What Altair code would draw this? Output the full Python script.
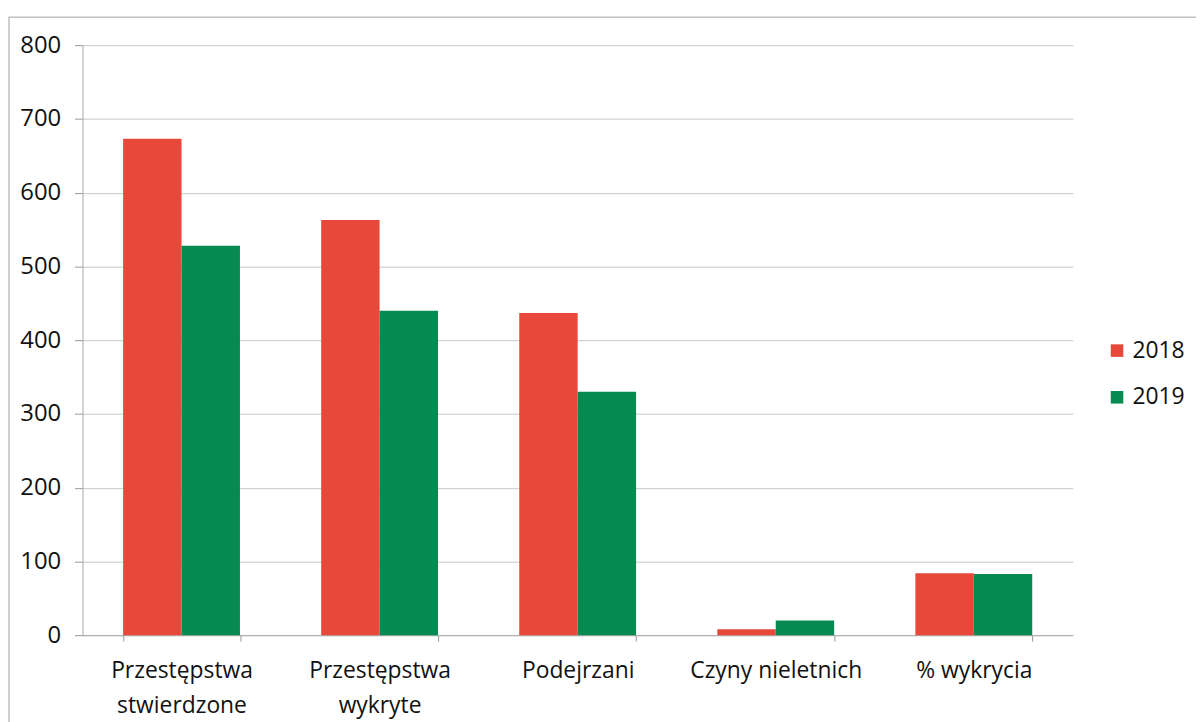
import altair as alt
import pandas as pd

categories = ["Przestępstwa stwierdzone", "Przestępstwa wykryte", "Podejrzani",
              "Czyny nieletnich", "% wykrycia"]
labels = [["Przestępstwa", "stwierdzone"], ["Przestępstwa", "wykryte"], ["Podejrzani"],
          ["Czyny nieletnich"], ["% wykrycia"]]
years = ["2018", "2019"]
values_2018 = [673, 563, 437, 8, 84]
values_2019 = [528, 440, 330, 20, 83]

rows = []
for c, a, b in zip(categories, values_2018, values_2019):
    rows.append({"cat": c, "year": "2018", "value": a})
    rows.append({"cat": c, "year": "2019", "value": b})
df = pd.DataFrame(rows)

label_map = {c: l for c, l in zip(categories, labels)}
label_expr = "{" + ",".join(
    f"'{c}': [" + ",".join(f"'{p}'" for p in l) + "]" for c, l in label_map.items()
) + "}[datum.value]"

FONT = "Open Sans"
TXT = "#111111"

bars = alt.Chart(df).mark_bar().encode(
    x=alt.X("cat:N", sort=categories, title=None,
            scale=alt.Scale(paddingInner=0.41, paddingOuter=0.205),
            axis=alt.Axis(labelAngle=0, labelExpr=label_expr, tickBand="extent",
                          labelFontSize=23, labelLineHeight=35, labelPadding=19,
                          tickSize=6, tickColor="#999999", domainColor="#aaaaaa",
                          labelColor=TXT, labelFont=FONT)),
    xOffset=alt.XOffset("year:N", sort=years, scale=alt.Scale(paddingInner=0)),
    y=alt.Y("value:Q", title=None,
            scale=alt.Scale(domain=[0, 800]),
            axis=alt.Axis(values=[0, 100, 200, 300, 400, 500, 600, 700, 800],
                          labelFontSize=24, labelFont=FONT, labelColor=TXT,
                          tickSize=8, tickColor="#999999", labelPadding=14,
                          domainColor="#aaaaaa", gridColor="#c8c8c8")),
    color=alt.Color("year:N", sort=years,
                    scale=alt.Scale(domain=years, range=["#E8483A", "#078A52"]),
                    legend=alt.Legend(title=None, orient="none", legendX=1030, legendY=296,
                                      symbolType="square", symbolSize=160,
                                      labelFontSize=23, labelFont=FONT,
                                      labelColor=TXT, rowPadding=23,
                                      symbolStrokeWidth=0)),
)

frame = alt.Chart(pd.DataFrame({"a": [0]})).mark_rect(
    fill=None, stroke="#c0c0c0", strokeWidth=1.5
).encode(x=alt.value(-74), x2=alt.value(1135), y=alt.value(-28), y2=alt.value(700))

chart = alt.layer(frame, bars).properties(
    width=997, height=594,
    autosize=alt.AutoSizeParams(type="none"),
    padding={"left": 75, "top": 35, "right": 124, "bottom": 85},
).configure_view(stroke=None).configure_axisX(grid=False)

chart.save("out.html", embed_options={"renderer": "svg", "actions": False})
